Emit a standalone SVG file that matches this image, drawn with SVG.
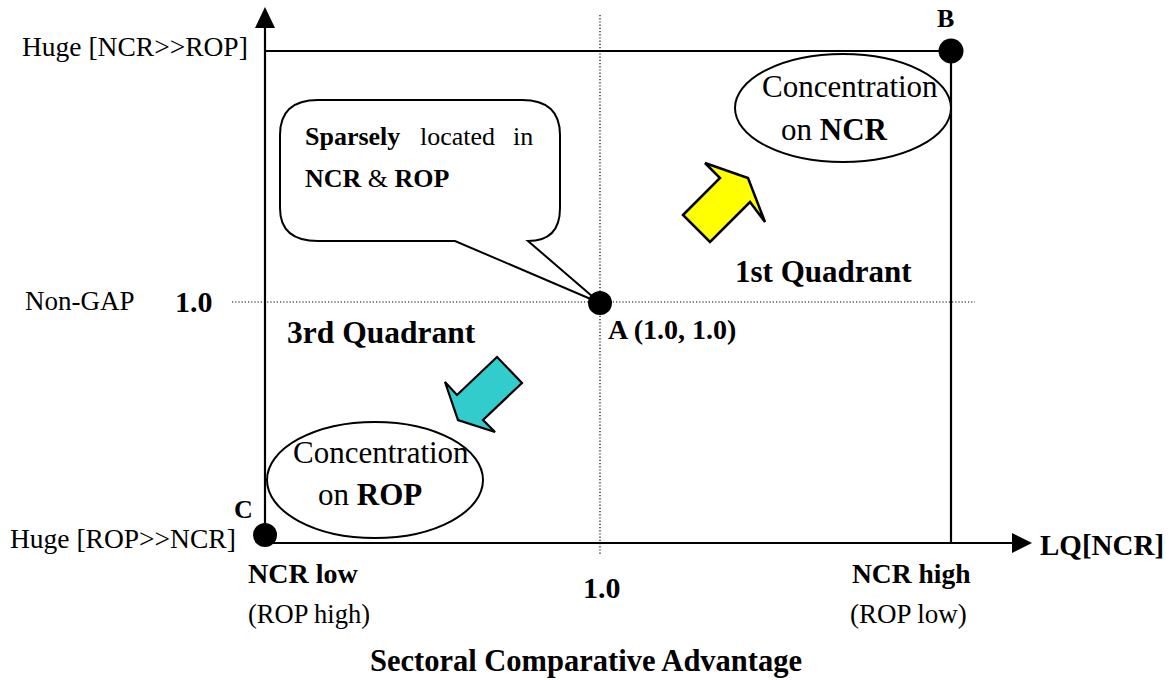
<svg xmlns="http://www.w3.org/2000/svg" width="1171" height="680" viewBox="0 0 1171 680" font-family="'Liberation Serif','Times New Roman',serif">
<style>
text{font-family:"Liberation Serif","Times New Roman",serif;fill:#000}
.b{font-weight:bold}
.ax{stroke:#000;stroke-width:2.2;fill:none}
.dot{stroke:#000;stroke-width:1.2;stroke-dasharray:1.2,2;fill:none}
.pt{fill:#000}
.sh{stroke:#000;stroke-width:2;fill:#fff}
</style>
<rect width="1171" height="680" fill="#fff"/>
<g id="connectors">
<line class="dot" x1="232" y1="302" x2="975" y2="302"/>
<line class="dot" x1="600" y1="15" x2="600" y2="555"/>
<line class="ax" x1="265" y1="25" x2="265" y2="543"/>
<polygon points="265,7 255,28 275,28" fill="#000"/>
<line class="ax" x1="265" y1="543" x2="1015" y2="543"/>
<polygon points="1032,543 1012,533 1012,553" fill="#000"/>
<line class="ax" x1="265" y1="51" x2="951" y2="51"/>
<line class="ax" x1="951" y1="51" x2="951" y2="543"/>
</g>
<g id="callout">
<path class="sh" d="M318,100 H522 Q560,100 560,135 V208 Q560,241 528,241 L600,303 L455,241 H318 Q280,241 280,208 V135 Q280,100 318,100 Z"/>
<text font-size="26" y="145"><tspan class="b" x="305">Sparsely</tspan><tspan x="420">located</tspan><tspan x="513">in</tspan></text>
<text font-size="26" x="305" y="187"><tspan class="b">NCR</tspan> &amp; <tspan class="b">ROP</tspan></text>
</g>
<g id="ellipse-ncr">
<ellipse class="sh" cx="843" cy="108" rx="108" ry="54"/>
<text font-size="31" x="762" y="97">Concentration</text>
<text font-size="31" x="781" y="140">on <tspan class="b">NCR</tspan></text>
</g>
<g id="ellipse-rop">
<ellipse class="sh" cx="375" cy="480" rx="108" ry="58"/>
<text font-size="31" x="293" y="463">Concentration</text>
<text font-size="31" x="318" y="505">on <tspan class="b">ROP</tspan></text>
</g>
<g id="arrow-yellow">
<polygon points="683,215 720,178 705,163 748,178 765,222 750,202 710,242" fill="#FFFF00" stroke="#000" stroke-width="2.5"/>
</g>
<g id="arrow-cyan">
<polygon points="497,357 522,383 483,420 495,432 458,420 445,382 457,395" fill="#33CCCC" stroke="#000" stroke-width="2.2"/>
</g>
<g id="point-a">
<circle class="pt" cx="600" cy="303" r="12"/>
<text class="b" font-size="28" x="608" y="339">A (1.0, 1.0)</text>
</g>
<g id="point-b">
<circle class="pt" cx="951" cy="51" r="12.5"/>
<text class="b" font-size="26" x="937" y="27">B</text>
</g>
<g id="point-c">
<circle class="pt" cx="265" cy="535" r="12"/>
<text class="b" font-size="26" x="234" y="518">C</text>
</g>
<g id="labels">
<text font-size="27.5" x="22" y="56">Huge [NCR&gt;&gt;ROP]</text>
<text font-size="27" x="25" y="310">Non-GAP</text>
<text class="b" font-size="30" x="175" y="312">1.0</text>
<text class="b" font-size="31.5" x="287" y="343">3rd Quadrant</text>
<text class="b" font-size="31" x="735" y="282">1st Quadrant</text>
<text font-size="27.5" x="10" y="548">Huge [ROP&gt;&gt;NCR]</text>
<text class="b" font-size="28" x="248" y="583">NCR low</text>
<text font-size="26.5" x="248" y="623">(ROP high)</text>
<text class="b" font-size="30" x="583" y="598">1.0</text>
<text class="b" font-size="27.5" x="852" y="583">NCR high</text>
<text font-size="27" x="850" y="623">(ROP low)</text>
<text class="b" font-size="29" x="1040" y="555">LQ[NCR]</text>
<text class="b" font-size="30.5" x="370" y="671">Sectoral Comparative Advantage</text>
</g>
</svg>
